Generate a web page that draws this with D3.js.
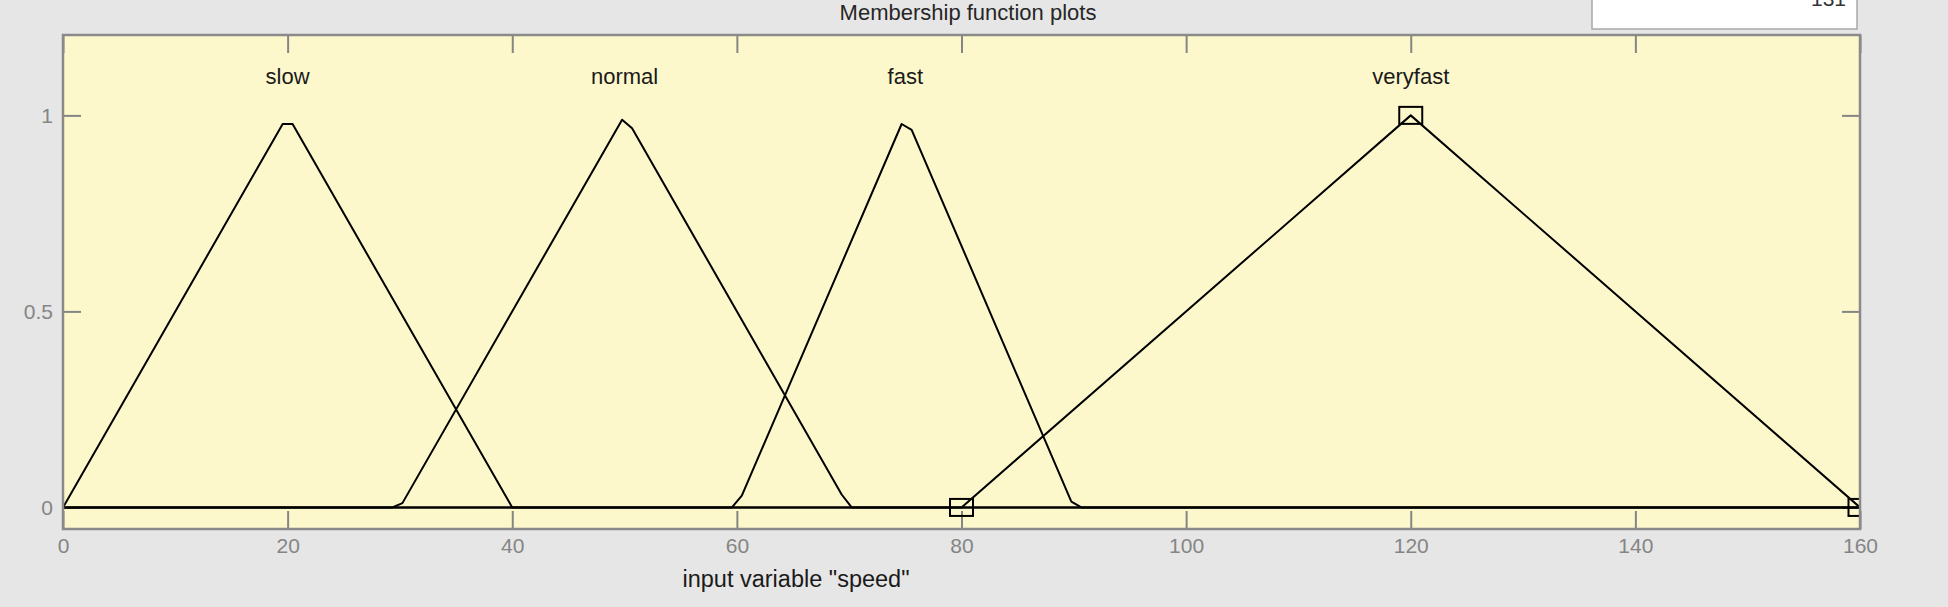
<!DOCTYPE html>
<html><head><meta charset="utf-8">
<script src="https://cdn.jsdelivr.net/npm/d3@7"></script>
<style>
html,body{margin:0;padding:0;background:#e6e6e6;}
svg{display:block;}
</style></head><body>
<svg id="chart" width="1948" height="607"></svg>
<script>
// ---- data ----
const xTicks = [0, 20, 40, 60, 80, 100, 120, 140, 160];
const xTickLabels = ["0", "20", "40", "60", "80", "100", "120", "140", "160"];
const yTicks = [0, 0.5, 1];
const yTickLabels = ["0", "0.5", "1"];
const mfNames = ["slow", "normal", "fast", "veryfast"];
const mfPeaks = [20, 50, 75, 120];
// polyline vertices of each membership curve
const slowX = [0, 19.56, 20.44, 40, 160];
const slowY = [0, 0.978, 0.978, 0, 0];
const normalX = [0, 29.33, 30.22, 49.78, 50.67, 69.33, 70.22, 160];
const normalY = [0, 0, 0.011, 0.989, 0.967, 0.033, 0, 0];
const fastX = [0, 59.56, 60.44, 74.67, 75.56, 89.78, 90.67, 160];
const fastY = [0, 0, 0.03, 0.978, 0.963, 0.015, 0, 0];
const veryfastX = [0, 80, 120, 160];
const veryfastY = [0, 0, 1, 0];
// selected curve's vertex handles
const handleX = [80, 120, 160];
const handleY = [0, 1, 0];
const titleText = "Membership function plots";
const xLabelText = 'input variable "speed"';
const boxText = "131";

// ---- drawing ----
const svg = d3.select("#chart");
const x = d3.scaleLinear().domain([0, 160]).range([63, 1860]);
const y = d3.scaleLinear().domain([-0.055, 1.205]).range([529, 35]);
const FONT = "'Liberation Sans', Arial, sans-serif";

// white edit box at top right
svg.append("rect").attr("x", 1592).attr("y", -3).attr("width", 265).attr("height", 32)
  .attr("fill", "#ffffff").attr("stroke", "#a8a8a8").attr("stroke-width", 1.5);
svg.append("text").attr("x", 1846).attr("y", 6).attr("text-anchor", "end")
  .attr("font-family", FONT).attr("font-size", 21).attr("fill", "#333").text(boxText);

// title
svg.append("text").attr("x", 968).attr("y", 20).attr("text-anchor", "middle")
  .attr("font-family", FONT).attr("font-size", 22).attr("fill", "#262626").text(titleText);

// plot background
svg.append("rect")
  .attr("x", x(0)).attr("y", y(1.205))
  .attr("width", x(160) - x(0)).attr("height", y(-0.055) - y(1.205))
  .attr("fill", "#fcf8cb");

svg.append("clipPath").attr("id", "clip").append("rect")
  .attr("x", x(0)).attr("y", y(1.205))
  .attr("width", x(160) - x(0)).attr("height", y(-0.055) - y(1.205));

function styleAxis(g) {
  g.select(".domain").remove();
  g.selectAll(".tick line").attr("stroke", "#858585").attr("stroke-width", 2);
  g.selectAll(".tick text").attr("fill", "#858585").attr("font-family", FONT).attr("font-size", 21);
}

svg.append("g").attr("transform", `translate(0,${y(-0.055)})`)
  .call(d3.axisBottom(x).tickValues(xTicks).tickSize(-18).tickPadding(9)
    .tickFormat((d, i) => xTickLabels[i]))
  .call(styleAxis);
svg.append("g").attr("transform", `translate(0,${y(1.205)})`)
  .call(d3.axisTop(x).tickValues(xTicks).tickSize(-18).tickFormat(""))
  .call(styleAxis);
svg.append("g").attr("transform", `translate(${x(0)},0)`)
  .call(d3.axisLeft(y).tickValues(yTicks).tickSize(-18).tickPadding(10)
    .tickFormat((d, i) => yTickLabels[i]))
  .call(styleAxis);
svg.append("g").attr("transform", `translate(${x(160)},0)`)
  .call(d3.axisRight(y).tickValues(yTicks).tickSize(-18).tickFormat(""))
  .call(styleAxis);

// curves
const series = [
  slowX.map((v, i) => [v, slowY[i]]),
  normalX.map((v, i) => [v, normalY[i]]),
  fastX.map((v, i) => [v, fastY[i]]),
  veryfastX.map((v, i) => [v, veryfastY[i]])
];
const line = d3.line().x(d => x(d[0])).y(d => y(d[1]));
const plot = svg.append("g").attr("clip-path", "url(#clip)");
plot.selectAll("path.mf").data(series).join("path").attr("class", "mf")
  .attr("d", line).attr("fill", "none").attr("stroke", "#000").attr("stroke-width", 2)
  .attr("stroke-linejoin", "round");

// handles
plot.selectAll("rect.h").data(handleX.map((v, i) => [v, handleY[i]])).join("rect").attr("class", "h")
  .attr("x", d => x(d[0]) - 11.5).attr("y", d => y(d[1]) - 8.5)
  .attr("width", 23).attr("height", 17)
  .attr("fill", "none").attr("stroke", "#000").attr("stroke-width", 2);

// names
svg.selectAll("text.mfname").data(mfNames).join("text").attr("class", "mfname")
  .attr("x", (d, i) => x(mfPeaks[i])).attr("y", y(1.1)).attr("dy", "0.35em")
  .attr("text-anchor", "middle").attr("font-family", FONT).attr("font-size", 22)
  .attr("fill", "#1a1a1a").text(d => d);

// axis box border
svg.append("rect")
  .attr("x", x(0)).attr("y", y(1.205))
  .attr("width", x(160) - x(0)).attr("height", y(-0.055) - y(1.205))
  .attr("fill", "none").attr("stroke", "#8a8a8a").attr("stroke-width", 2.5);

// x label
svg.append("text").attr("x", 796).attr("y", 587).attr("text-anchor", "middle")
  .attr("font-family", FONT).attr("font-size", 23.5).attr("fill", "#1a1a1a").text(xLabelText);
</script>
</body></html>
